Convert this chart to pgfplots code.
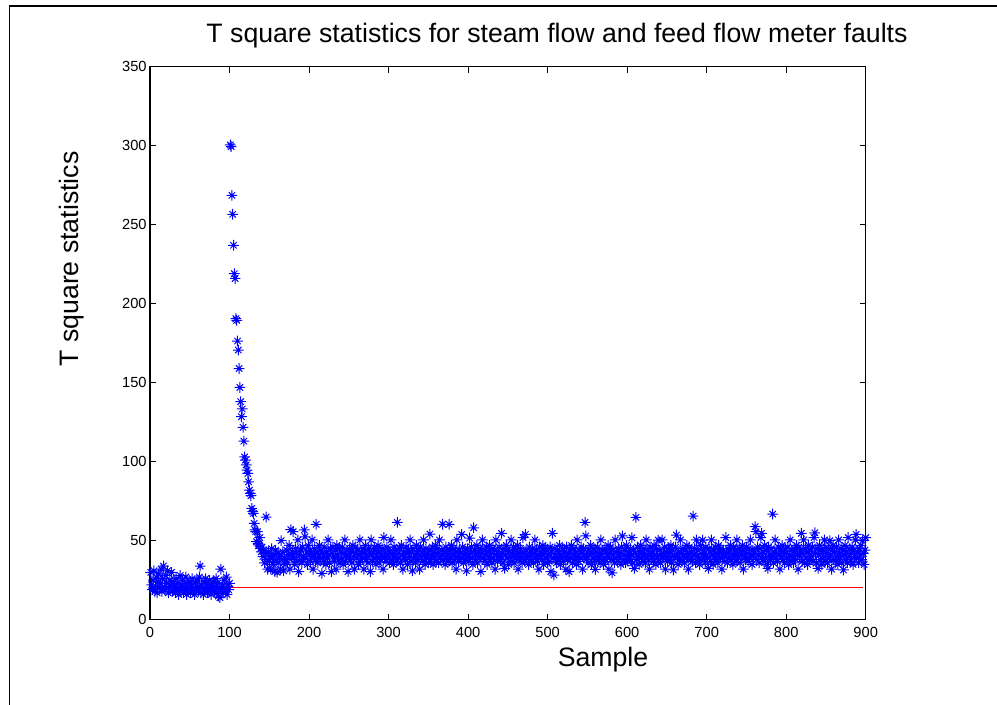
\documentclass[border=0pt]{standalone}
\usepackage{pgfplots}
\pgfplotsset{compat=1.18}
\usepackage{pgfplotstable}
\usepackage{fontspec}
\setmainfont{Liberation Sans}
\pgfdeclareplotmark{mstar}{%
 \pgfpathmoveto{\pgfqpoint{-\pgfplotmarksize}{0pt}}\pgfpathlineto{\pgfqpoint{\pgfplotmarksize}{0pt}}%
 \pgfpathmoveto{\pgfqpoint{0pt}{-\pgfplotmarksize}}\pgfpathlineto{\pgfqpoint{0pt}{\pgfplotmarksize}}%
 \pgfpathmoveto{\pgfqpoint{-0.6\pgfplotmarksize}{-0.6\pgfplotmarksize}}\pgfpathlineto{\pgfqpoint{0.6\pgfplotmarksize}{0.6\pgfplotmarksize}}%
 \pgfpathmoveto{\pgfqpoint{-0.6\pgfplotmarksize}{0.6\pgfplotmarksize}}\pgfpathlineto{\pgfqpoint{0.6\pgfplotmarksize}{-0.6\pgfplotmarksize}}%
 \pgfusepathqstroke}
\pgfplotstableread[row sep=\\, header=false]{
30\\22\\19\\25\\31\\18\\21\\27\\17\\24\\
29\\20\\23\\32\\18\\26\\34\\21\\19\\28\\
23\\31\\17\\20\\25\\22\\30\\18\\24\\19\\
21\\17\\26\\19\\23\\16\\20\\28\\18\\22\\
25\\17\\21\\19\\27\\16\\23\\18\\20\\24\\
17\\22\\26\\18\\20\\16\\23\\19\\25\\21\\
18\\27\\34\\17\\22\\20\\16\\24\\19\\26\\
21\\17\\23\\18\\25\\20\\16\\22\\19\\24\\
18\\21\\26\\17\\23\\15\\20\\14\\32\\19\\
22\\17\\25\\20\\18\\27\\16\\21\\19\\23\\
300.5\\299.5\\268.6\\256.6\\237\\219\\216\\190.5\\189.5\\176.4\\
170.7\\159\\147\\138\\128.5\\133.4\\121.8\\113\\103\\101\\
98\\94.7\\92.6\\87.3\\82\\80\\78.5\\70.5\\68.4\\67.3\\
61\\56.8\\55.7\\49.4\\55.7\\48.4\\47.3\\52\\45\\43\\
46\\40\\44\\36\\42\\65\\38\\32\\43\\37\\
40\\32\\45\\39\\35\\41\\30.5\\44\\38\\30\\
42\\36\\40\\32\\50\\38\\43\\31\\39\\35\\
38\\44\\36\\41\\47\\32\\57\\40\\43\\55.7\\
39\\35\\45\\42\\37\\50.5\\30.5\\41\\44\\38\\
36\\46\\40\\56.8\\52.5\\39\\43\\35\\47\\41\\
44\\37\\42\\50.5\\32\\40\\45\\38\\60.4\\43\\
36\\41\\47\\39\\44\\29.4\\42\\37\\46\\40\\
35\\43\\39\\50.5\\41\\36\\45\\30.5\\42\\46\\
40\\37\\44\\32\\47\\41\\38\\45\\36\\43\\
39\\46\\35\\42\\50.5\\37\\41\\44\\30.5\\40\\
45\\38\\43\\36\\47\\40\\32\\46\\42\\39\\
44\\35\\41\\50.5\\37\\43\\39\\45\\32\\42\\
47\\38\\40\\36\\45\\43\\30.5\\50.5\\41\\37\\
42\\46\\39\\35\\44\\40\\47\\36\\43\\38\\
41\\45\\32\\52\\39\\42\\37\\46\\40\\44\\
36\\43\\50.5\\38\\41\\35\\46\\40\\44\\37\\
61.6\\42\\39\\45\\36\\47\\41\\32\\43\\40\\
38\\46\\42\\35\\44\\40\\50.5\\37\\43\\31\\
45\\39\\41\\36\\47\\42\\38\\44\\32\\46\\
40\\43\\37\\50.5\\41\\35\\45\\39\\42\\36\\
44\\54.2\\38\\41\\46\\35\\43\\40\\47\\37\\
42\\45\\36\\50.5\\39\\41\\44\\60.4\\38\\43\\
35\\46\\40\\42\\37\\60.4\\44\\39\\47\\36\\
41\\45\\38\\43\\32\\50.5\\40\\37\\44\\42\\
39\\54\\46\\36\\41\\43\\38\\31\\45\\40\\
37\\51.7\\42\\46\\39\\35\\58.2\\44\\41\\38\\
47\\36\\43\\40\\45\\30.5\\42\\50.5\\39\\44\\
37\\41\\46\\35\\43\\40\\47\\38\\42\\36\\
45\\39\\44\\32\\50.5\\41\\37\\43\\46\\40\\
38\\54.7\\42\\36\\45\\32.5\\41\\47\\39\\44\\
35\\43\\40\\50.5\\37\\42\\46\\36\\44\\39\\
41\\47\\32\\43\\38\\45\\40\\36\\52\\42\\
37\\54\\44\\39\\41\\35\\46\\40\\43\\38\\
45\\36\\42\\50.5\\39\\44\\37\\41\\32\\46\\
40\\43\\38\\47\\35\\42\\45\\39\\44\\36\\
41\\37\\46\\30.5\\43\\54.7\\39\\28.3\\45\\40\\
36\\44\\38\\42\\47\\35\\41\\39\\45\\37\\
43\\40\\32\\46\\38\\42\\30.4\\44\\39\\47\\
36\\41\\45\\38\\43\\35\\50.5\\40\\37\\44\\
39\\46\\42\\32\\45\\40\\61.6\\53\\38\\43\\
36\\44\\41\\47\\35\\42\\39\\45\\37\\31.9\\
43\\40\\46\\38\\42\\36\\50.5\\41\\44\\35\\
39\\45\\37\\43\\40\\47\\32\\42\\46\\38\\
29.7\\44\\41\\36\\50.5\\39\\43\\37\\45\\40\\
42\\35\\46\\53\\38\\41\\44\\36\\47\\40\\
37\\43\\39\\45\\41\\51.9\\36\\44\\32.5\\42\\
64.8\\38\\46\\40\\35\\43\\47\\39\\41\\37\\
45\\42\\36\\50.5\\40\\44\\38\\32\\46\\41\\
39\\43\\37\\47\\41\\35\\45\\40\\50.4\\38\\
44\\36\\42\\50.5\\39\\41\\46\\32\\43\\40\\
37\\45\\42\\38\\47\\36\\44\\31.5\\41\\39\\
46\\53.6\\40\\35\\43\\38\\50.5\\42\\37\\45\\
41\\36\\44\\39\\47\\40\\32\\46\\42\\38\\
43\\37\\65.6\\41\\45\\36\\50.5\\40\\44\\39\\
35\\47\\42\\38\\50.4\\44\\40\\36\\46\\41\\
39\\32.5\\45\\43\\37\\50.5\\41\\35\\44\\40\\
46\\38\\42\\36\\47\\43\\39\\45\\32\\41\\
44\\40\\37\\52\\42\\36\\45\\39\\43\\47\\
38\\41\\35\\46\\40\\44\\37\\50.5\\42\\39\\
45\\36\\43\\41\\47\\32\\44\\40\\38\\46\\
42\\37\\45\\39\\50.5\\41\\35\\44\\40\\43\\
58.9\\55.7\\38\\46\\41\\36\\45\\52\\54.7\\40\\
43\\37\\47\\39\\44\\35\\32.5\\46\\41\\38\\
45\\40\\66.9\\36\\43\\50.5\\39\\42\\37\\46\\
41\\32\\44\\40\\47\\38\\43\\36\\45\\42\\
39\\46\\35\\41\\50.5\\37\\44\\40\\36\\45\\
43\\38\\47\\41\\32\\46\\40\\44\\54.7\\37\\
42\\50.5\\36\\45\\39\\43\\35\\47\\41\\38\\
44\\40\\46\\37\\52\\55\\42\\36\\45\\32.5\\
41\\47\\38\\44\\35\\43\\40\\50.5\\37\\46\\
42\\36\\45\\39\\50\\41\\32\\44\\47\\38\\
43\\37\\46\\40\\35\\50.5\\42\\39\\45\\36\\
44\\31.5\\41\\47\\38\\43\\36\\52\\40\\45\\
37\\42\\46\\35\\44\\40\\50.5\\54\\39\\43\\
36\\45\\41\\47\\38\\50\\42\\35\\44\\52\\
}\tsq
\begin{document}
\begin{tikzpicture}
\path[use as bounding box] (0,0) rectangle (747.75pt,528pt);
\draw[line width=1.2pt] (7.1pt,-1pt) -- (7.1pt,523.7pt) -- (749pt,523.7pt);
\begin{axis}[
  at={(112.5pt,63.2pt)}, anchor=south west,
  scale only axis, width=536.8pt, height=414.75pt,
  xmin=0, xmax=900, ymin=0, ymax=350,
  xtick={0,100,...,900}, ytick={0,50,...,350},
  tick align=inside, major tick length=4.5pt,
  tick style={black, line width=0.6pt},
  axis line style={line width=0.9pt},
  scaled ticks=false,
  /pgf/number format/assume math mode=true,
  tick label style={font=\fontsize{11}{13}\selectfont},
  xticklabel style={yshift=-2pt},
  yticklabel style={xshift=1pt},
]
\addplot[only marks, mark=mstar, mark size=4pt, color={rgb,255:red,0;green,0;blue,255}, line width=0.75pt]
  table[x expr=\coordindex+1, y index=0] {\tsq};
\addplot[red, line width=0.6pt] coordinates {(0,20.5) (897,20.5)};
\end{axis}
\node[anchor=base, font=\fontsize{20}{24}\selectfont] at (417.75pt,496pt) {T square statistics for steam flow and feed flow meter faults};
\node[anchor=base, font=\fontsize{20}{24}\selectfont] at (452.25pt,27.75pt) {Sample};
\node[anchor=center, rotate=90, font=\fontsize{20}{24}\selectfont] at (54pt,333.75pt) {T square statistics};
\end{tikzpicture}
\end{document}
